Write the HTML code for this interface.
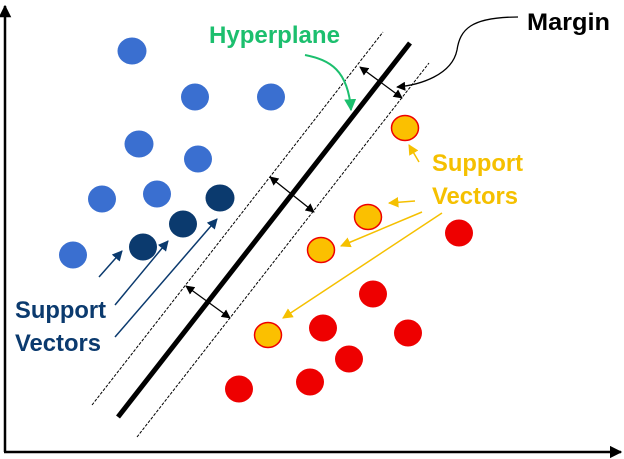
<!DOCTYPE html>
<html><head><style>body{margin:0;background:#fff}svg{display:block}</style></head><body>
<svg width="624" height="459" viewBox="0 0 624 459" xmlns="http://www.w3.org/2000/svg" font-family="Liberation Sans, sans-serif">
<defs>
<marker id="k" viewBox="0 0 10 10" refX="9" refY="5" markerWidth="7" markerHeight="7" orient="auto-start-reverse"><path d="M0,0L10,5L0,10z" fill="#000"/></marker>
<marker id="ax" viewBox="0 0 10 10" refX="9" refY="5" markerWidth="5" markerHeight="5" orient="auto"><path d="M0,0L10,5L0,10z" fill="#000"/></marker>
<marker id="b" viewBox="0 0 10 10" refX="9" refY="5" markerWidth="7" markerHeight="7" orient="auto"><path d="M0,0L10,5L0,10z" fill="#0b3a6e"/></marker>
<marker id="y" viewBox="0 0 10 10" refX="9" refY="5" markerWidth="7" markerHeight="7" orient="auto"><path d="M0,0L10,5L0,10z" fill="#f5c000"/></marker>
<marker id="g" viewBox="0 0 10 10" refX="9" refY="5" markerWidth="6" markerHeight="6" orient="auto"><path d="M0,0L10,5L0,10z" fill="#1cbf6e"/></marker>
</defs>
<line x1="5" y1="452" x2="5" y2="6" stroke="#000" stroke-width="2.5" marker-end="url(#ax)"/>
<line x1="4" y1="452" x2="621" y2="452" stroke="#000" stroke-width="2.5" marker-end="url(#ax)"/>
<line x1="92" y1="405" x2="383" y2="32" stroke="#000" stroke-width="1" stroke-dasharray="3,1.5"/>
<line x1="137" y1="437" x2="429" y2="63" stroke="#000" stroke-width="1" stroke-dasharray="3,1.5"/>
<line x1="118" y1="417" x2="410" y2="43" stroke="#000" stroke-width="5"/>
<g stroke="#000" stroke-width="1.3" marker-start="url(#k)" marker-end="url(#k)">
<line x1="360" y1="67" x2="402" y2="98"/>
<line x1="270" y1="177" x2="314" y2="212"/>
<line x1="186" y1="286" x2="230" y2="318"/>
</g>
<path d="M518,17 C470,17 460,30 457,50 C452,75 420,85 397,87" fill="none" stroke="#000" stroke-width="1.3" marker-end="url(#k)"/>
<path d="M305,55 C330,60 348,70 351,110" fill="none" stroke="#1cbf6e" stroke-width="2" marker-end="url(#g)"/>
<g fill="#3a6fd0">
<ellipse cx="132" cy="51" rx="14.5" ry="13.5"/><ellipse cx="195" cy="97" rx="14" ry="13.5"/><ellipse cx="271" cy="97" rx="14" ry="13.5"/>
<ellipse cx="139" cy="144" rx="14.5" ry="13.5"/><ellipse cx="198" cy="159" rx="14" ry="13.5"/><ellipse cx="102" cy="199" rx="14" ry="13.5"/>
<ellipse cx="157" cy="194" rx="14" ry="13.5"/><ellipse cx="73" cy="255" rx="14" ry="13.5"/>
</g>
<g fill="#0b3a6e"><ellipse cx="220" cy="198" rx="14.5" ry="13.5"/><ellipse cx="183" cy="224" rx="14" ry="13.5"/><ellipse cx="143" cy="247" rx="14" ry="13.5"/></g>
<g fill="#ee0000">
<ellipse cx="459" cy="233" rx="14" ry="13.5"/><ellipse cx="373" cy="294" rx="14" ry="13.5"/><ellipse cx="323" cy="328" rx="14" ry="13.5"/>
<ellipse cx="408" cy="333" rx="14" ry="13.5"/><ellipse cx="349" cy="359" rx="14" ry="13.5"/><ellipse cx="310" cy="382" rx="14" ry="13.5"/><ellipse cx="239" cy="389" rx="14" ry="13.5"/>
</g>
<g fill="#fbc000" stroke="#e00" stroke-width="1.5">
<ellipse cx="405" cy="128" rx="13.5" ry="12.5"/><ellipse cx="368" cy="217" rx="13.5" ry="12.5"/><ellipse cx="321" cy="250" rx="13.5" ry="12.5"/><ellipse cx="268" cy="335" rx="13.5" ry="12.5"/>
</g>
<g stroke="#0b3a6e" stroke-width="1.5" marker-end="url(#b)">
<line x1="99" y1="277" x2="122" y2="251"/><line x1="115" y1="305" x2="168" y2="241"/><line x1="115" y1="337" x2="217" y2="219"/>
</g>
<g stroke="#f5c000" stroke-width="1.5" marker-end="url(#y)">
<line x1="419" y1="162" x2="409" y2="145"/><line x1="415" y1="201" x2="389" y2="203"/><line x1="422" y1="212" x2="341" y2="246"/><line x1="442" y1="213" x2="283" y2="318"/>
</g>
<g font-weight="bold" font-size="24">
<text x="209" y="43" fill="#1cbf6e" textLength="131" lengthAdjust="spacingAndGlyphs">Hyperplane</text>
<text x="527" y="30" fill="#000" textLength="83" lengthAdjust="spacingAndGlyphs">Margin</text>
<text x="432" y="171" fill="#f5c000" textLength="91" lengthAdjust="spacingAndGlyphs">Support</text>
<text x="432" y="204" fill="#f5c000" textLength="86" lengthAdjust="spacingAndGlyphs">Vectors</text>
<text x="15" y="318" fill="#0b3a6e" textLength="91" lengthAdjust="spacingAndGlyphs">Support</text>
<text x="15" y="351" fill="#0b3a6e" textLength="86" lengthAdjust="spacingAndGlyphs">Vectors</text>
</g>
</svg>
</body></html>
